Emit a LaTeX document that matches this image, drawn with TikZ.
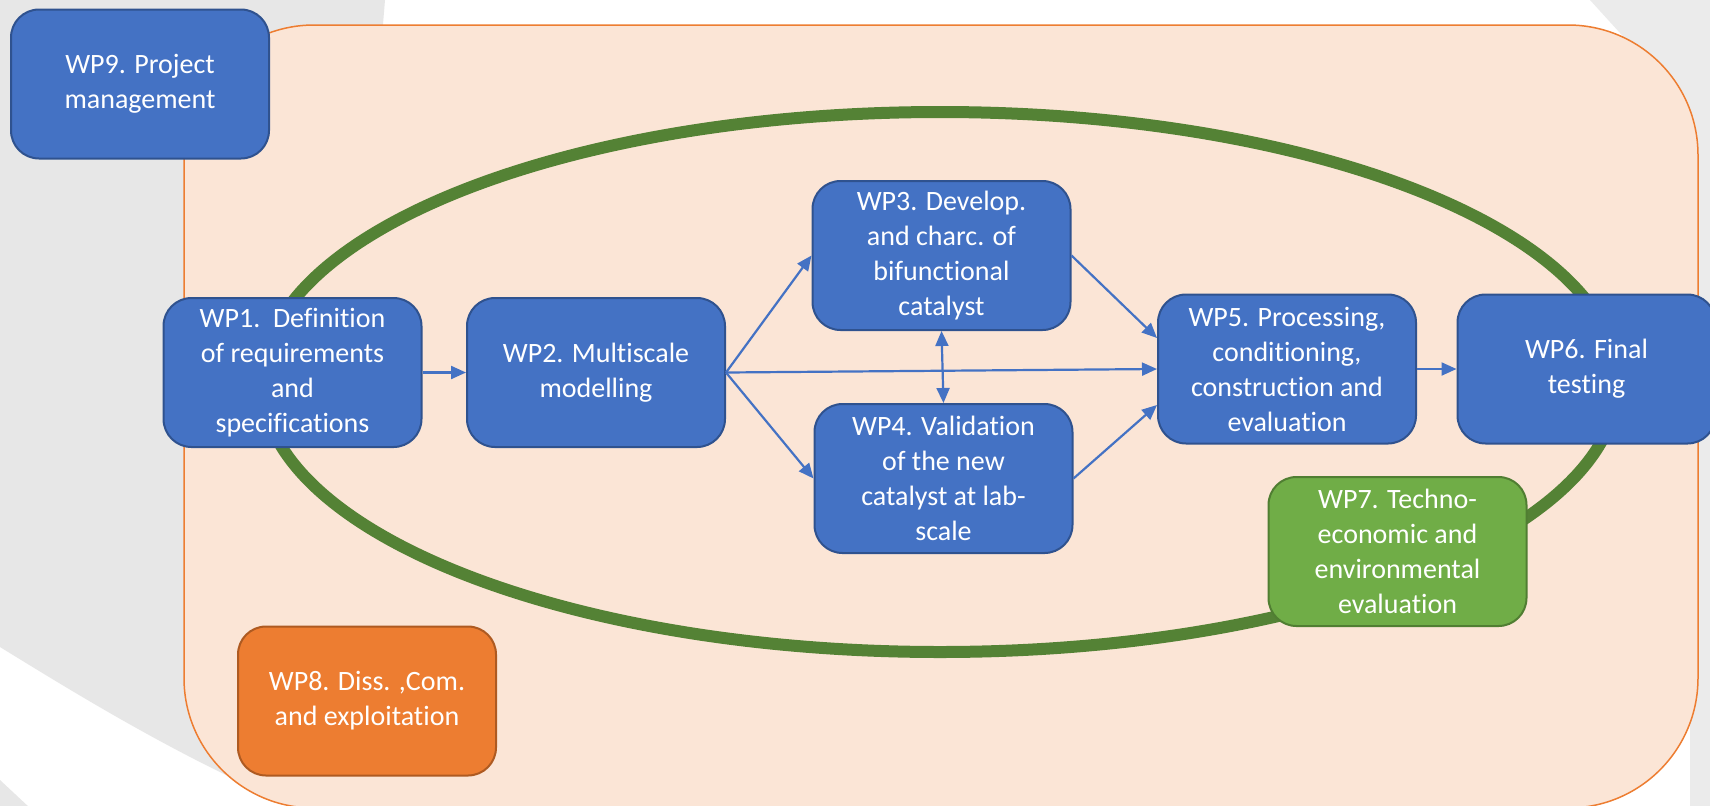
\documentclass[tikz,border=0pt]{standalone}
\usepackage{fontspec}
\setmainfont{Carlito}[Ligatures={NoCommon}]
\usetikzlibrary{arrows.meta,calc}
\definecolor{bggrey}{HTML}{E7E7E7}
\definecolor{bggreyb}{HTML}{EBEBEB}
\definecolor{peach}{HTML}{FBE5D6}
\definecolor{orline}{HTML}{ED7D31}
\definecolor{wpblue}{HTML}{4472C4}
\definecolor{wpbluedark}{HTML}{2F528F}
\definecolor{wpgreen}{HTML}{70AD47}
\definecolor{wpgreendark}{HTML}{507E32}
\definecolor{wporange}{HTML}{ED7D31}
\definecolor{wporangedark}{HTML}{AE5A21}
\definecolor{ringgreen}{HTML}{548235}
\begin{document}
\begin{tikzpicture}[x=0.5pt,y=-0.5pt,
  wpbox/.style={draw=wpbluedark, fill=wpblue, line width=1pt, rounded corners=14pt,
    minimum width=129pt, minimum height=74.5pt, inner sep=0pt, align=center,
    text=white, font=\fontsize{14pt}{17.5pt}\selectfont},
  greenbox/.style={wpbox, fill=wpgreen, draw=wpgreendark},
  orangebox/.style={wpbox, fill=wporange, draw=wporangedark},
  conn/.style={draw=wpblue, line width=1.1pt, -{Triangle[length=7.5pt,width=6.5pt]}},
  biconn/.style={draw=wpblue, line width=1.1pt, {Triangle[length=7.5pt,width=6.5pt]}-{Triangle[length=7.5pt,width=6.5pt]}}]
\useasboundingbox (0,0) rectangle (1710,805);
\clip (0,0) rectangle (1710,805);
\fill[white] (0,0) rectangle (1710,805);
% background decorations
\fill[bggrey] (0,0) -- (385,0) -- (380,60) -- (380,700) -- (280,800)
  .. controls (170,752) and (70,690) .. (0,647) -- cycle;
\fill[bggrey] (0,780) -- (30,808) -- (0,808) -- cycle;
\fill[bggreyb] (1590,0) -- (1712,0) -- (1712,808) -- (1690,808) -- (1690,110) -- cycle;
% main panel
\draw[fill=peach, draw=orline, line width=0.75pt, rounded corners=65pt] (184,25) rectangle (1698,808);
% ring
\draw[ringgreen, line width=6pt] (940,382) ellipse [x radius=339pt, y radius=135pt];
% boxes
\node[wpbox] (wp9) at (140,84) {WP9. Project\\management};
\node[wpbox] (wp1) at (292.5,372.5) {WP1.\ \ Definition\\of requirements\\and\\specifications};
\node[wpbox] (wp2) at (596,372.5) {WP2. Multiscale\\modelling};
\node[wpbox] (wp3) at (941.5,255.5) {WP3. Develop.\\and charc. of\\bifunctional\\catalyst};
\node[wpbox] (wp4) at (943.5,478.5) {WP4. Validation\\of the new\\catalyst at lab-\\scale};
\node[wpbox] (wp5) at (1287,369) {WP5. Processing,\\conditioning,\\construction and\\evaluation};
\node[wpbox] (wp6) at (1586.5,369) {WP6. Final\\testing};
\node[greenbox] (wp7) at (1397.5,551.5) {WP7. Techno-\\economic and\\environmental\\evaluation};
\node[orangebox] (wp8) at (367,701) {WP8. Diss. ,Com.\\and exploitation};
% connectors
\draw[conn] (wp1) -- (wp2);
\draw[conn] (wp2.east) -- (wp3.west);
\draw[conn] (wp2.east) -- (wp4.west);
\draw[conn] (wp2.east) -- (wp5.west);
\draw[biconn] (wp3.south) -- (wp4.north);
\draw[conn] (wp3.east) -- ([yshift=15.5pt]wp5.west);
\draw[conn] (wp4.east) -- ([yshift=-18pt]wp5.west);
\draw[conn] (wp5) -- (wp6);
\end{tikzpicture}
\end{document}
